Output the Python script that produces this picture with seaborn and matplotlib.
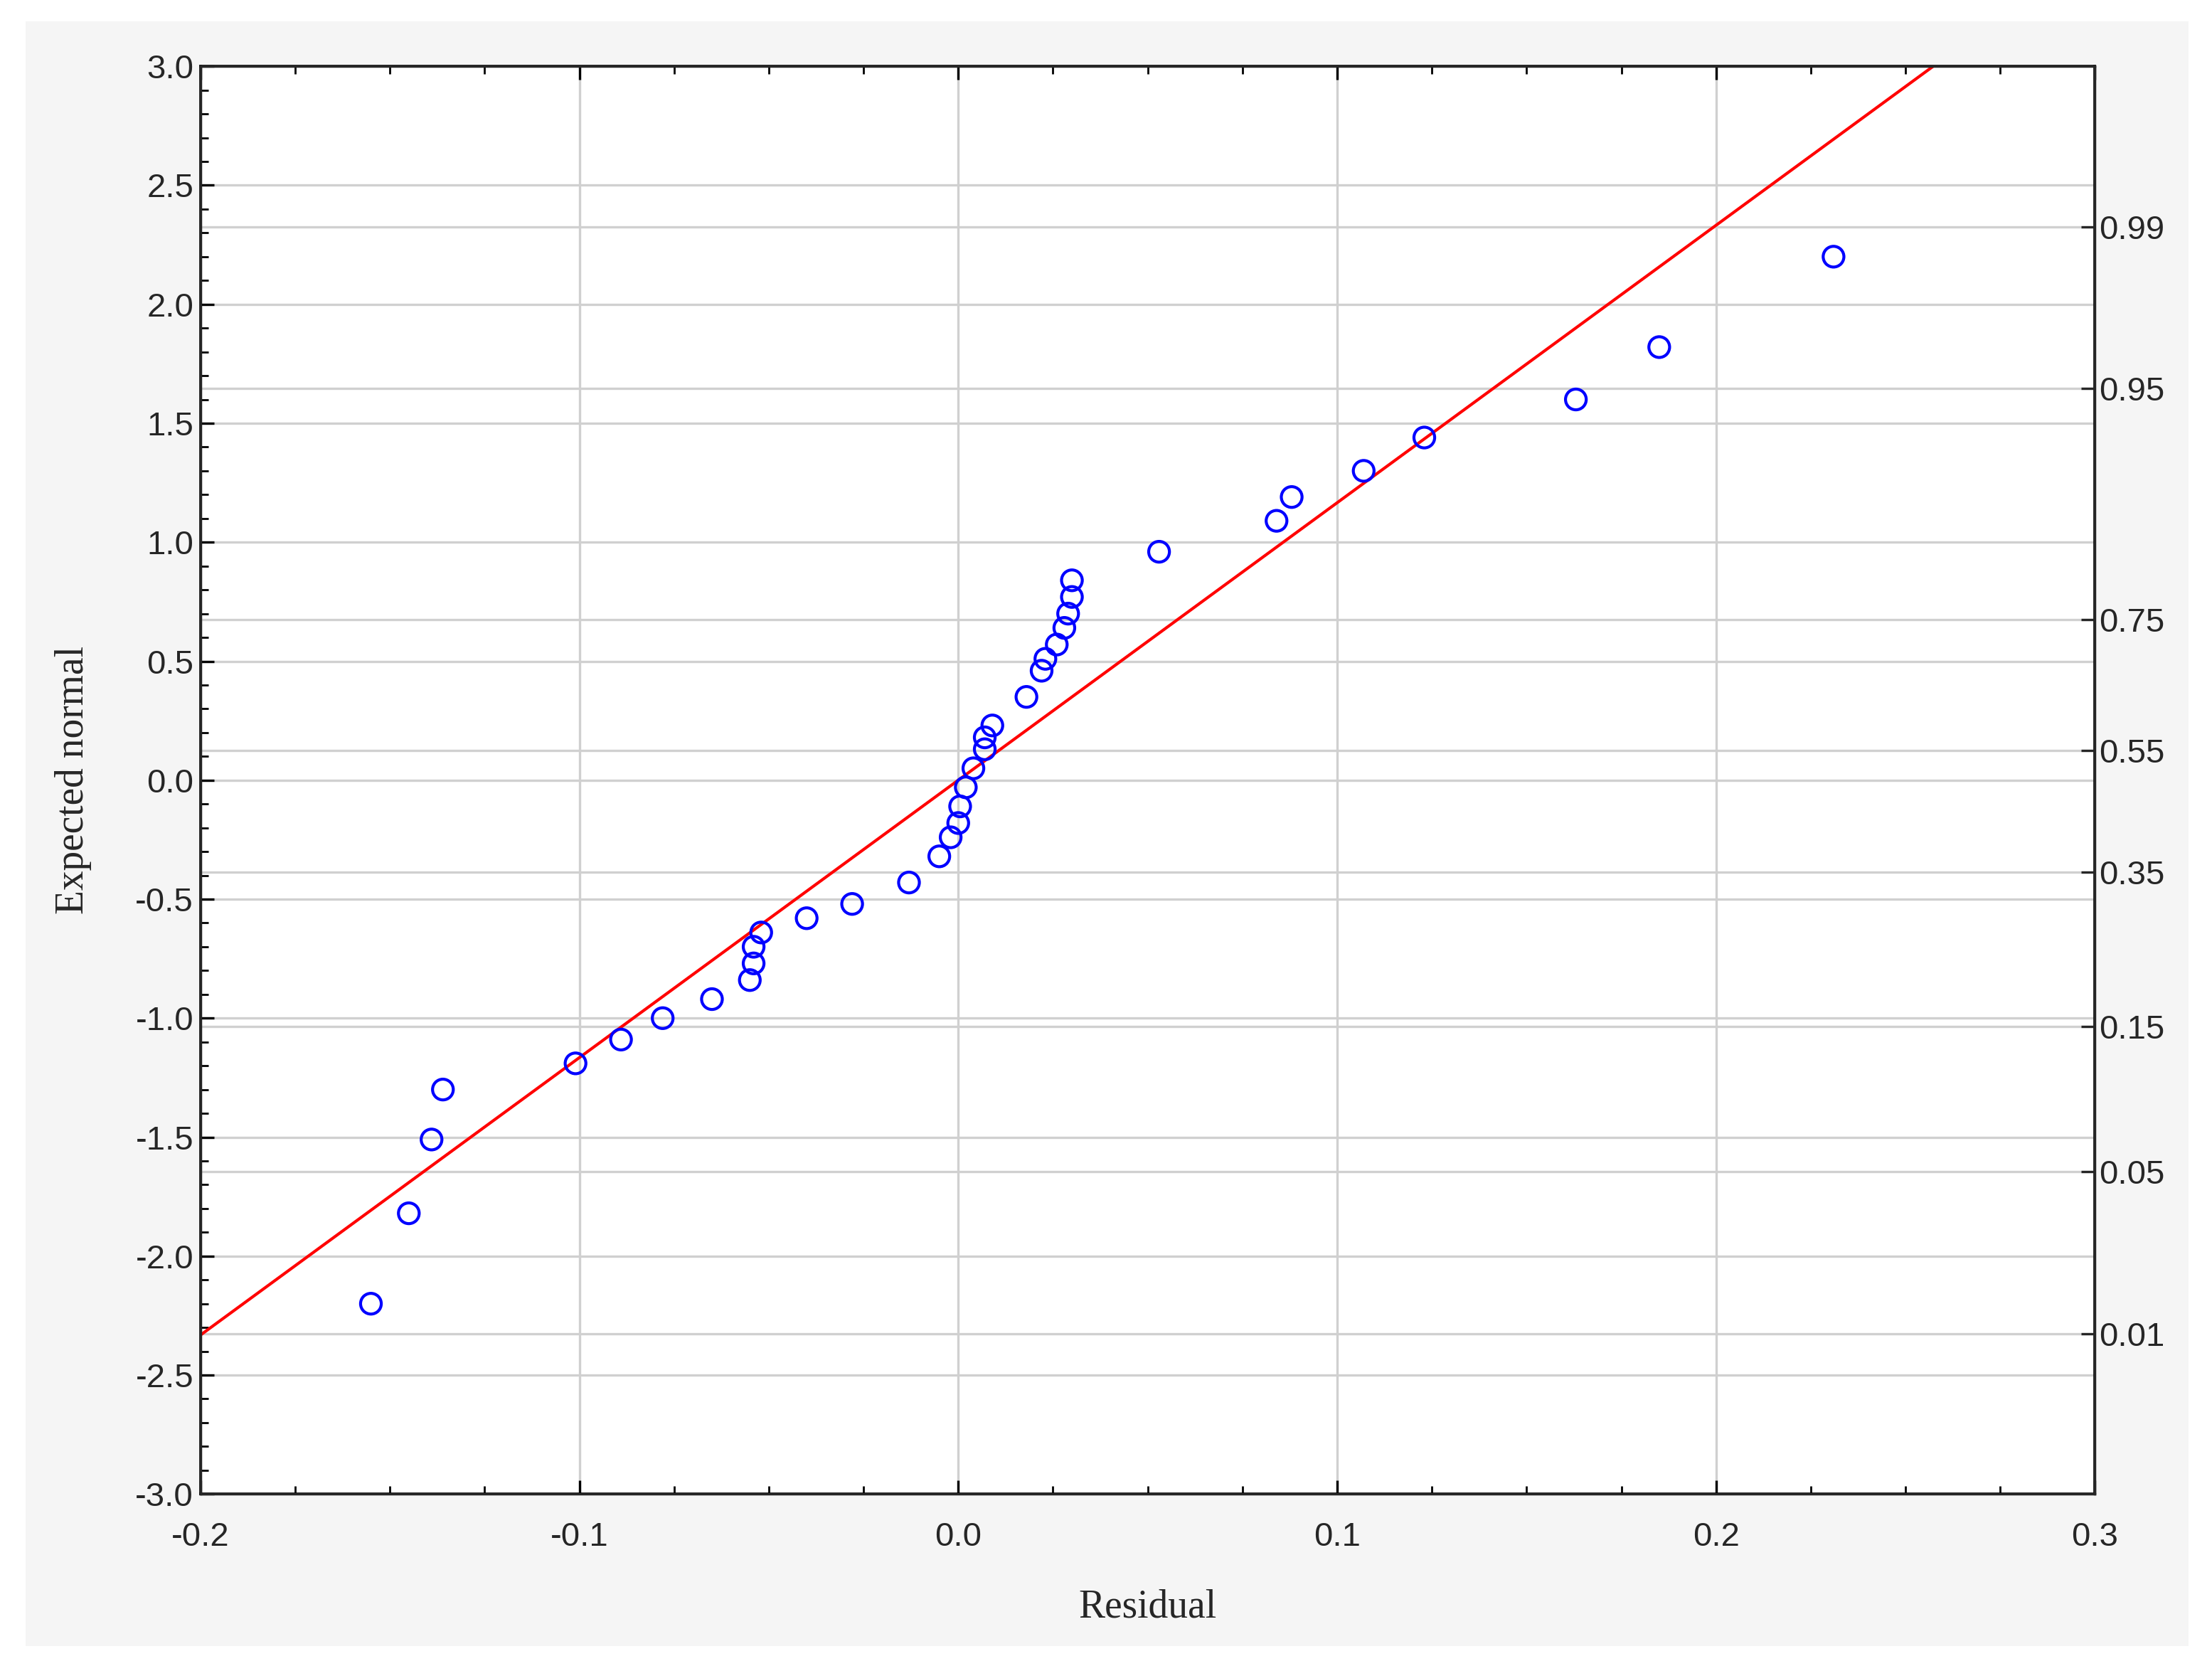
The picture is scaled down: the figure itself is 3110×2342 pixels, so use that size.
import numpy as np
import pandas as pd
import matplotlib.pyplot as plt
import seaborn as sns
from matplotlib.ticker import MultipleLocator
from matplotlib.patches import Rectangle

residual = [-0.155, -0.145, -0.139, -0.136, -0.101, -0.089, -0.078, -0.065, -0.055, -0.054,
            -0.054, -0.052, -0.040, -0.028, -0.013, -0.005, -0.002, 0.000, 0.0005, 0.002,
            0.004, 0.007, 0.007, 0.009, 0.018, 0.022, 0.023, 0.026, 0.028, 0.029,
            0.030, 0.030, 0.053, 0.084, 0.088, 0.107, 0.123, 0.163, 0.185, 0.231]
expected = [-2.20, -1.82, -1.51, -1.30, -1.19, -1.09, -1.00, -0.92, -0.84, -0.77,
            -0.70, -0.64, -0.58, -0.52, -0.43, -0.32, -0.24, -0.18, -0.11, -0.03,
            0.05, 0.13, 0.18, 0.23, 0.35, 0.46, 0.51, 0.57, 0.64, 0.70,
            0.77, 0.84, 0.96, 1.09, 1.19, 1.30, 1.44, 1.60, 1.82, 2.20]
line_slope = 11.66
prob_labels = ['0.01', '0.05', '0.15', '0.35', '0.55', '0.75', '0.95', '0.99']
prob_z = [-2.326, -1.645, -1.036, -0.385, 0.126, 0.674, 1.645, 2.326]

df = pd.DataFrame({'Residual': residual, 'Expected normal': expected})

sns.set_theme(style='white')
plt.rcParams['font.family'] = ['Liberation Sans', 'DejaVu Sans']

fig = plt.figure(figsize=(15.55, 11.71), dpi=200, facecolor='white')
fig.patches.append(Rectangle((0.0115, 0.012), 0.978, 0.975, transform=fig.transFigure,
                             facecolor='#f5f5f5', edgecolor='none', zorder=-10))
ax = fig.add_axes([0.0906, 0.1032, 0.8565, 0.857])
ax.set_facecolor('white')

# grid
for v in [-0.1, 0.0, 0.1, 0.2]:
    ax.axvline(v, color='#d0d0d0', lw=1.2, zorder=0)
for v in list(np.arange(-2.5, 3.0, 0.5)) + prob_z:
    ax.axhline(v, color='#d0d0d0', lw=1.2, zorder=0)

xs = np.array([-0.2, 0.3])
sns.lineplot(x=xs, y=line_slope * xs, color='red', lw=1.5, ax=ax, zorder=2)
sns.scatterplot(data=df, x='Residual', y='Expected normal', ax=ax, s=110,
                facecolor='none', edgecolor='blue', linewidth=1.5, zorder=3)

ax.set_xlim(-0.2, 0.3)
ax.set_ylim(-3, 3)
ax.xaxis.set_major_locator(MultipleLocator(0.1))
ax.xaxis.set_minor_locator(MultipleLocator(0.025))
ax.yaxis.set_major_locator(MultipleLocator(0.5))
ax.yaxis.set_minor_locator(MultipleLocator(0.1))
ax.xaxis.set_major_formatter(plt.FuncFormatter(lambda v, p: f'{v:.1f}'))
ax.yaxis.set_major_formatter(plt.FuncFormatter(lambda v, p: f'{v:.1f}'))
ax.tick_params(which='both', direction='in', top=True, bottom=True, left=True,
               color='black', labelsize=17)
ax.tick_params(which='major', length=7, width=1.2)
ax.tick_params(which='minor', length=4, width=1)
ax.tick_params(axis='x', pad=14)
for s in ax.spines.values():
    s.set_color('black')
    s.set_linewidth(1.3)

ax2 = ax.twinx()
ax2.set_ylim(-3, 3)
ax2.set_yticks(prob_z)
ax2.set_yticklabels(prob_labels)
ax2.tick_params(direction='in', length=7, width=1.2, labelsize=17, pad=2)

ax.set_xlabel('Residual', family=['Liberation Serif'], fontsize=20, labelpad=18)
ax.set_ylabel('Expected normal', family=['Liberation Serif'], fontsize=20, labelpad=22)

fig.savefig('out.png', dpi=200, facecolor=fig.get_facecolor())
